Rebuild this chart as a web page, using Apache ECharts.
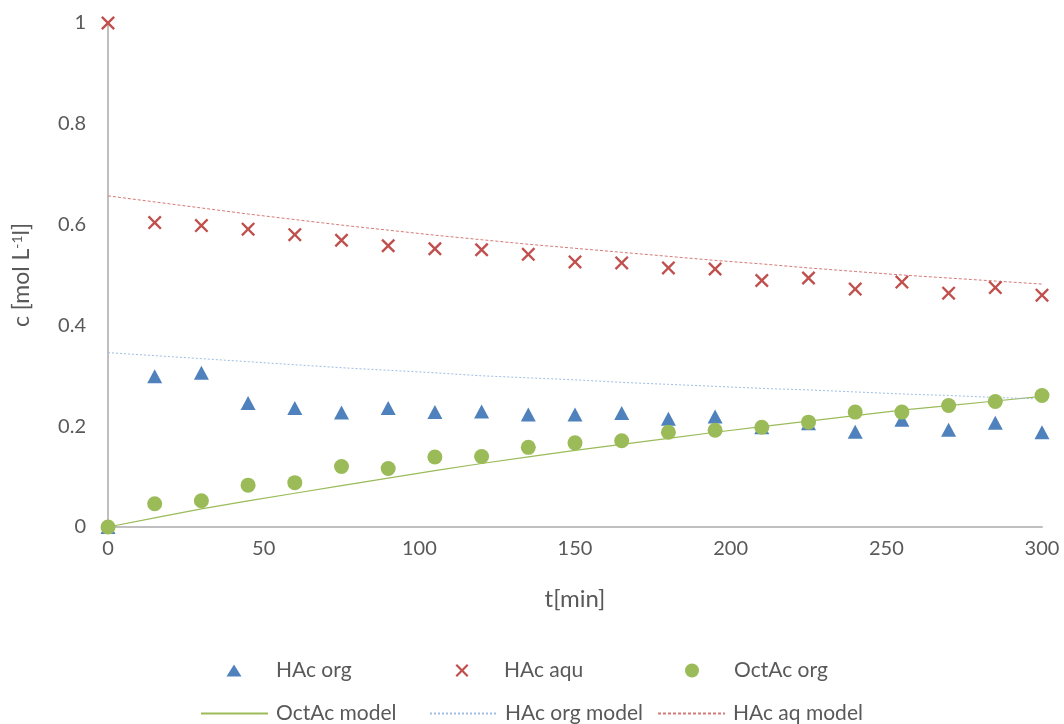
<!DOCTYPE html>
<html>
<head>
<meta charset="utf-8">
<title>Acetic acid / octyl acetate concentrations</title>
<script src="https://cdn.jsdelivr.net/npm/echarts@6/dist/echarts.min.js"></script>
<style>
  html, body { margin: 0; padding: 0; background: #fff; }
  #chart { width: 1064px; height: 724px; }
</style>
</head>
<body>
<div id="chart"></div>
<script>
// sampling times [min]
const times = [0, 15, 30, 45, 60, 75, 90, 105, 120, 135, 150, 165, 180, 195, 210, 225, 240, 255, 270, 285, 300];

// measured concentrations [mol/L]
const hacOrg = [0, 0.299, 0.306, 0.246, 0.236, 0.227, 0.236, 0.228, 0.229, 0.223, 0.223, 0.226, 0.215, 0.219, 0.198, 0.206, 0.189, 0.213, 0.193, 0.207, 0.188];
const hacAqu = [1.0, 0.604, 0.598, 0.591, 0.580, 0.569, 0.558, 0.552, 0.550, 0.541, 0.526, 0.524, 0.514, 0.512, 0.489, 0.494, 0.472, 0.486, 0.464, 0.475, 0.460];
const octAcOrg = [0, 0.046, 0.052, 0.083, 0.088, 0.120, 0.116, 0.139, 0.140, 0.158, 0.167, 0.171, 0.188, 0.192, 0.198, 0.208, 0.228, 0.228, 0.241, 0.249, 0.261];

// model curves [mol/L]
const octAcModel = [0, 0.018, 0.036, 0.052, 0.067, 0.082, 0.097, 0.112, 0.126, 0.139, 0.152, 0.164, 0.176, 0.188, 0.199, 0.210, 0.221, 0.232, 0.241, 0.250, 0.259];
const hacOrgModel = [0.346, 0.340, 0.334, 0.328, 0.322, 0.316, 0.311, 0.306, 0.300, 0.296, 0.292, 0.287, 0.283, 0.279, 0.275, 0.272, 0.268, 0.264, 0.261, 0.257, 0.254];
const hacAqModel = [0.657, 0.645, 0.633, 0.621, 0.610, 0.599, 0.589, 0.579, 0.570, 0.561, 0.553, 0.545, 0.537, 0.529, 0.522, 0.514, 0.507, 0.500, 0.494, 0.488, 0.482];

const xTicks = [0, 50, 100, 150, 200, 250, 300];
const yTicks = [0, 0.2, 0.4, 0.6, 0.8, 1];

const pair = (vals) => times.map((t, i) => [t, vals[i]]);

const FONT = 'Lato';
const TEXT = '#595959';
const AXIS = '#bfbfbf';
const BLUE = '#4f81bd';
const RED = '#c0504d';
const GREEN = '#9bbb59';

const crossPath = 'path://M0,1.2 L1.2,0 L5,3.8 L8.8,0 L10,1.2 L6.2,5 L10,8.8 L8.8,10 L5,6.2 L1.2,10 L0,8.8 L3.8,5 Z';

// one legend entry per column, markers in the first row, model lines in the second
function markerLegend(name, iconCenter, w, h) {
  return {
    data: [name],
    left: iconCenter - w / 2,
    top: 660,
    padding: 0,
    itemWidth: w,
    itemHeight: h,
    selectedMode: false,
    textStyle: { color: TEXT, fontFamily: FONT, fontSize: 21, padding: [0, 0, 0, 76 - 34 - w / 2 - 5] }
  };
}
function lineLegend(name, left) {
  return {
    data: [name],
    left: left,
    top: 703,
    padding: 0,
    itemWidth: 67,
    itemHeight: 1,
    selectedMode: false,
    itemStyle: { color: 'rgba(0,0,0,0)', borderWidth: 0 },
    textStyle: { color: TEXT, fontFamily: FONT, fontSize: 21, padding: [0, 0, 0, 3] }
  };
}

const chart = echarts.init(document.getElementById('chart'), null, { renderer: 'canvas' });

chart.setOption({
  backgroundColor: '#ffffff',
  animation: false,
  grid: { left: 108, right: 22, top: 23, bottom: 197 },
  legend: [
    markerLegend('HAc org', 234, 15, 12),
    markerLegend('HAc aqu', 462, 13, 13),
    markerLegend('OctAc org', 692, 14, 14),
    lineLegend('OctAc model', 200),
    lineLegend('HAc org model', 429),
    lineLegend('HAc aq model', 657)
  ],
  xAxis: {
    type: 'value',
    min: xTicks[0],
    max: xTicks[xTicks.length - 1],
    interval: xTicks[1] - xTicks[0],
    name: 't[min]',
    nameLocation: 'middle',
    nameGap: 60,
    nameTextStyle: { color: TEXT, fontFamily: FONT, fontSize: 24 },
    axisLine: { lineStyle: { color: AXIS, width: 2 } },
    axisTick: { show: false },
    splitLine: { show: false },
    axisLabel: { color: TEXT, fontFamily: FONT, fontSize: 20, margin: 12 }
  },
  yAxis: {
    type: 'value',
    min: yTicks[0],
    max: yTicks[yTicks.length - 1],
    interval: yTicks[1] - yTicks[0],
    name: '{n|c [mol L}{s|-1}{n|l]}',
    nameLocation: 'middle',
    nameGap: 74,
    nameTextStyle: {
      color: TEXT, fontFamily: FONT, fontSize: 23,
      rich: {
        n: { color: TEXT, fontFamily: FONT, fontSize: 23 },
        s: { color: TEXT, fontFamily: FONT, fontSize: 14, verticalAlign: 'top', padding: [0, 0, 10, 0] }
      }
    },
    axisLine: { show: true, lineStyle: { color: AXIS, width: 2 } },
    axisTick: { show: false },
    splitLine: { show: false },
    axisLabel: { color: TEXT, fontFamily: FONT, fontSize: 20, margin: 22 }
  },
  series: [
    {
      name: 'OctAc model', type: 'line', data: pair(octAcModel),
      showSymbol: false, symbol: 'none', z: 1,
      lineStyle: { color: GREEN, width: 1.2, type: 'solid' },
      itemStyle: { color: GREEN }
    },
    {
      name: 'HAc org model', type: 'line', data: pair(hacOrgModel),
      showSymbol: false, symbol: 'none', z: 1,
      lineStyle: { color: '#9fbde3', width: 1, type: [2, 2] },
      itemStyle: { color: '#9fbde3' }
    },
    {
      name: 'HAc aq model', type: 'line', data: pair(hacAqModel),
      showSymbol: false, symbol: 'none', z: 1,
      lineStyle: { color: '#d47b78', width: 1, type: [3, 2] },
      itemStyle: { color: '#d47b78' }
    },
    {
      name: 'HAc org', type: 'scatter', data: pair(hacOrg),
      symbol: 'triangle', symbolSize: [15, 14], clip: false, z: 3,
      itemStyle: { color: BLUE, opacity: 1 }
    },
    {
      name: 'HAc aqu', type: 'scatter', data: pair(hacAqu),
      symbol: crossPath, symbolSize: 14, clip: false, z: 3,
      itemStyle: { color: RED, opacity: 1 }
    },
    {
      name: 'OctAc org', type: 'scatter', data: pair(octAcOrg),
      symbol: 'circle', symbolSize: 15, clip: false, z: 4,
      itemStyle: { color: GREEN, opacity: 1 }
    }
  ]
});
</script>
</body>
</html>
